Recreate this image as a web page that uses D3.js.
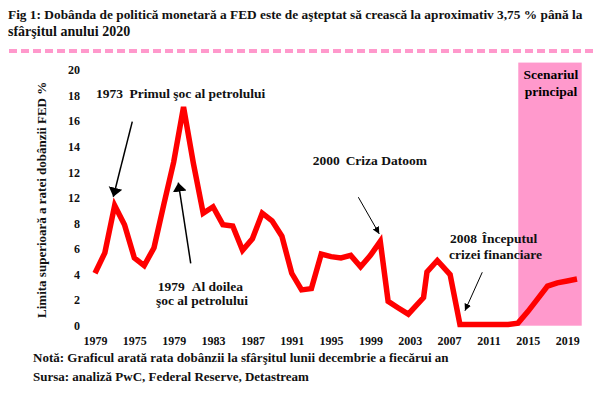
<!DOCTYPE html>
<html lang="ro">
<head>
<meta charset="UTF-8">
<title>Fig 1 - Dobanda FED</title>
<style>
    body { margin: 0; background: #fff; }
    svg { display: block; }
</style>
</head>
<body>
<script src="https://cdn.jsdelivr.net/npm/d3@7/dist/d3.min.js"></script>
<script>
    // values (year-end upper bound of FED funds rate, %)
    var years = [1971, 1972, 1973, 1974, 1975, 1976, 1977, 1978, 1979, 1980,
        1981, 1982, 1983, 1984, 1985, 1986, 1987, 1988, 1989, 1990,
        1991, 1992, 1993, 1994, 1995, 1996, 1997, 1998, 1999, 2000,
        2000.8, 2001.8, 2002.85, 2004.4, 2004.75, 2005.8, 2007.1, 2008.1,
        2009, 2010, 2011, 2012, 2013, 2014, 2015, 2016, 2017, 2018, 2019, 2020];
    var rates = [4.1, 5.7, 9.4, 7.9, 5.3, 4.7, 6.1, 9.5, 12.8, 17.1,
        12.7, 8.8, 9.3, 7.9, 7.8, 5.9, 6.8, 8.8, 8.2, 7.0,
        4.1, 2.8, 2.9, 5.6, 5.4, 5.3, 5.5, 4.6, 5.5, 6.6,
        1.9, 1.4, 0.9, 2.2, 4.2, 5.1, 4.0, 0.1,
        0.1, 0.1, 0.1, 0.1, 0.1, 0.2, 1.1, 2.1, 3.1, 3.35, 3.5, 3.65];

    // axis ticks (labels copied as printed, including the odd ones)
    var xTickYears = [1971, 1975, 1979, 1983, 1987, 1991, 1995, 1999, 2003, 2007, 2011, 2015, 2019];
    var xTickLabels = ["1979", "1975", "1979", "1983", "1987", "1991", "1995", "1999", "2003", "2007", "2011", "2015", "2019"];
    var yTickValues = [0, 2, 4, 6, 8, 10, 12, 14, 16, 18, 20];
    var yTickLabels = ["0", "2", "4", "6", "8", "12", "12", "14", "16", "18", "20"];

    // shaded forecast period
    var scenarioYears = [2014.03, 2020.48];
    var scenarioTop = 20.58;

    // annotations, in chart units (year, value)
    var noteTexts = ["1973", "Primul şoc al petrolului", "1979", "Al doilea", "şoc al petrolului",
        "2000", "Criza Datoom", "2008", "Începutul", "crizei financiare"];
    var noteYears = [1971.1, 1974.5, 1977.37, 1980.83, 1977.2, 1993.13, 1996.48, 2007.09, 2010.31, 2006.99];
    var noteValues = [17.8, 17.8, 2.75, 2.75, 1.6, 12.57, 12.57, 6.49, 6.49, 5.2];

    var arrowFrom = [[1974.79, 15.96], [1980.73, 4.88], [1997.77, 10.05], [2010.37, 4.18]];
    var arrowTo = [[1972.86, 10.09], [1979.47, 11.19], [1999.90, 7.18], [2008.61, 1.17]];
    var arrowHeavy = [true, true, false, false];

    var width = 600, height = 397;
    var serif = "\"Liberation Serif\", \"DejaVu Serif\", serif";

    var x = d3.scaleLinear().domain([1971, 2020]).range([95, 577]);
    var y = d3.scaleLinear().domain([0, 20]).range([325.7, 70]);

    var svg = d3.select("body").append("svg")
        .attr("width", width)
        .attr("height", height)
        .style("font-family", serif)
        .style("font-weight", "bold");

    var defs = svg.append("defs");
    defs.append("marker")
        .attr("id", "headBig")
        .attr("markerUnits", "userSpaceOnUse")
        .attr("viewBox", "0 -8 10 16")
        .attr("markerWidth", 10).attr("markerHeight", 16)
        .attr("refX", 9).attr("refY", 0)
        .attr("orient", "auto")
        .append("path").attr("d", "M0,-7L9,0L0,7Z").attr("fill", "#000");
    defs.append("marker")
        .attr("id", "headSmall")
        .attr("markerUnits", "userSpaceOnUse")
        .attr("viewBox", "0 -5 8 10")
        .attr("markerWidth", 8).attr("markerHeight", 10)
        .attr("refX", 7).attr("refY", 0)
        .attr("orient", "auto")
        .append("path").attr("d", "M0,-3.5L7,0L0,3.5Z").attr("fill", "#000");

    // title; first line shrunk until it fits the width it has in the original
    var title = svg.append("g").attr("fill", "#111");
    var t1 = title.append("text").attr("x", 8).attr("y", 19)
        .style("font-size", "14px")
        .text("Fig 1: Dobânda de politică monetară a FED este de aşteptat să crească la aproximativ 3,75 % până la");
    var w1 = t1.node().getComputedTextLength();
    if (w1 > 575) t1.style("font-size", (14 * 575 / w1) + "px");
    title.append("text").attr("x", 8).attr("y", 36)
        .style("font-size", "14px")
        .text("sfârşitul anului 2020");

    svg.append("line")
        .attr("x1", 9).attr("x2", 594)
        .attr("y1", 51).attr("y2", 51)
        .attr("stroke", "#ff99cc")
        .attr("stroke-width", 4)
        .attr("stroke-dasharray", "8,4");

    // scenario band
    svg.append("rect")
        .attr("x", x(scenarioYears[0]))
        .attr("width", x(scenarioYears[1]) - x(scenarioYears[0]))
        .attr("y", y(scenarioTop))
        .attr("height", y(0) - y(scenarioTop))
        .attr("fill", "#ff99cc");

    var midScenario = (scenarioYears[0] + scenarioYears[1]) / 2 + 0.1;
    svg.append("text")
        .attr("x", x(midScenario))
        .attr("y", y(19.28))
        .attr("text-anchor", "middle")
        .style("font-size", "13.5px")
        .text("Scenariul");
    svg.append("text")
        .attr("x", x(midScenario))
        .attr("y", y(17.95))
        .attr("text-anchor", "middle")
        .style("font-size", "13.5px")
        .text("principal");

    // axes
    var xAxis = d3.axisBottom(x)
        .tickValues(xTickYears)
        .tickSize(0)
        .tickPadding(11)
        .tickFormat(function (d, i) { return xTickLabels[i]; });

    var yAxis = d3.axisLeft(y)
        .tickValues(yTickValues)
        .tickSize(0)
        .tickPadding(0)
        .tickFormat(function (d, i) { return yTickLabels[i]; });

    svg.append("g")
        .attr("transform", "translate(0," + y(0) + ")")
        .call(xAxis);

    svg.append("g")
        .attr("transform", "translate(80,0)")
        .call(yAxis);

    svg.selectAll(".domain").remove();
    svg.selectAll(".tick text")
        .style("font-family", serif)
        .style("font-weight", "bold")
        .style("font-size", "12px")
        .attr("fill", "#111");

    svg.append("text")
        .attr("transform", "translate(46," + ((y(0) + y(20)) / 2 + 2) + ") rotate(-90)")
        .attr("text-anchor", "middle")
        .style("font-size", "13px")
        .attr("fill", "#111")
        .text("Limita superioară a ratei dobânzii FED %");

    // the rate line
    var line = d3.line()
        .x(function (d, i) { return x(years[i]); })
        .y(function (d) { return y(d); });

    svg.append("path")
        .datum(rates)
        .attr("d", line)
        .attr("fill", "none")
        .attr("stroke", "#ff0000")
        .attr("stroke-width", 5.5)
        .attr("stroke-linejoin", "miter");

    // arrows
    svg.selectAll(".arrow")
        .data(arrowFrom)
        .enter().append("line")
        .attr("class", "arrow")
        .attr("x1", function (d) { return x(d[0]); })
        .attr("y1", function (d) { return y(d[1]); })
        .attr("x2", function (d, i) { return x(arrowTo[i][0]); })
        .attr("y2", function (d, i) { return y(arrowTo[i][1]); })
        .attr("stroke", "#000")
        .attr("stroke-width", function (d, i) { return arrowHeavy[i] ? 1.5 : 1; })
        .attr("marker-end", function (d, i) { return arrowHeavy[i] ? "url(#headBig)" : "url(#headSmall)"; });

    // annotation texts
    svg.selectAll(".note")
        .data(noteTexts)
        .enter().append("text")
        .attr("class", "note")
        .attr("x", function (d, i) { return x(noteYears[i]); })
        .attr("y", function (d, i) { return y(noteValues[i]); })
        .style("font-size", "13.5px")
        .attr("fill", "#111")
        .text(function (d) { return d; });

    // footer
    var foot = svg.append("g").style("font-size", "13px").attr("fill", "#111");
    foot.append("text").attr("x", 33).attr("y", 362)
        .text("Notă: Graficul arată rata dobânzii la sfârşitul lunii decembrie a fiecărui an");
    foot.append("text").attr("x", 33).attr("y", 381)
        .text("Sursa: analiză PwC, Federal Reserve, Detastream");
</script>
</body>
</html>
